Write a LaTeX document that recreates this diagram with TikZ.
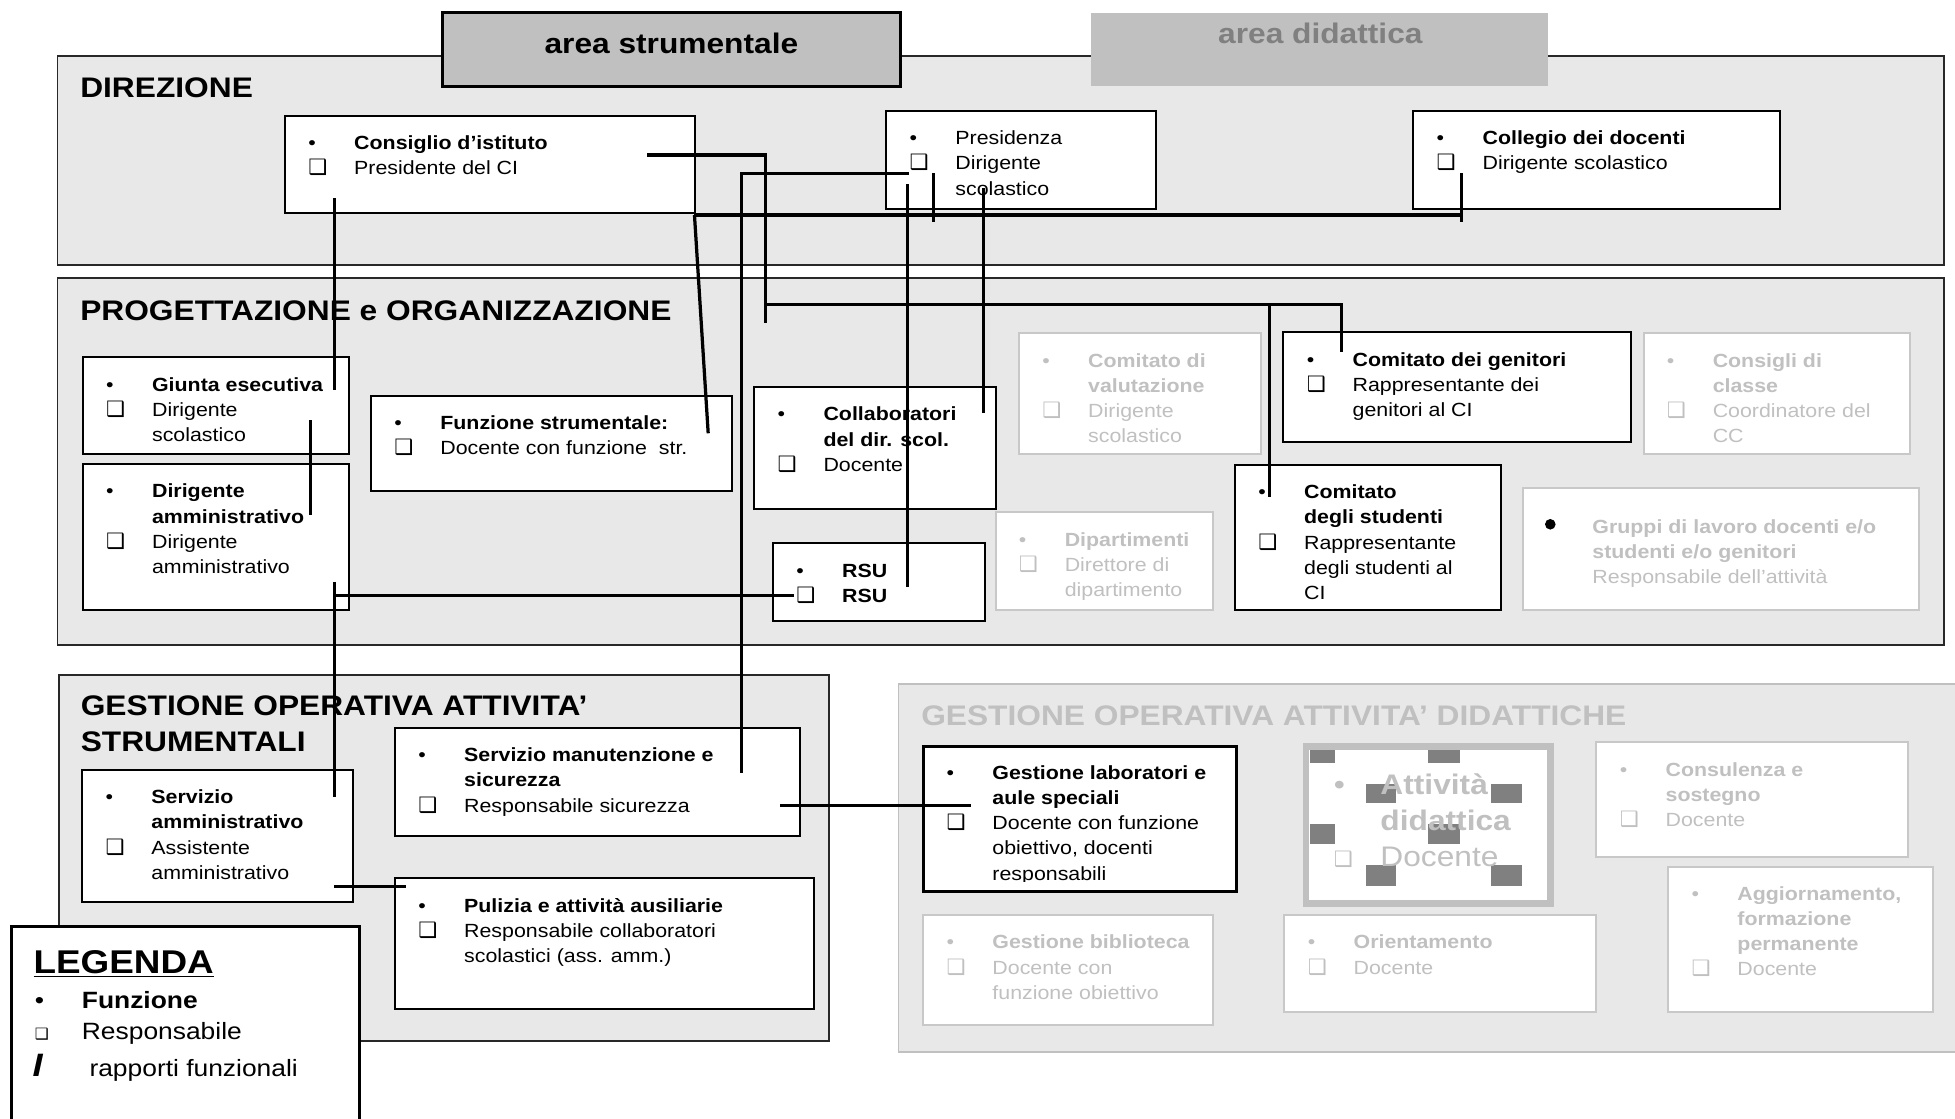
\documentclass[tikz,border=0pt]{standalone}
\usepackage{fontspec}
\setmainfont{Liberation Sans}[FakeStretch=1.12]
\newfontfamily\dejavu{DejaVu Sans}
\usetikzlibrary{fit}

\definecolor{panelfill}{RGB}{232,232,232}
\definecolor{tgray}{RGB}{192,192,192}
\definecolor{bgray}{RGB}{200,200,200}
\definecolor{agray}{RGB}{192,192,192}
\definecolor{dgray}{RGB}{128,128,128}
\definecolor{pborder}{RGB}{40,40,40}

\newcommand\fb{\fontsize{15.3}{20.2}\selectfont}
\newcommand\fh{\fontsize{22.7}{29.4}\selectfont}
\newcommand\chkbox{{\dejavu\fontsize{17}{17}\selectfont ❑}}
\newcommand\bul{\makebox[36.8pt][l]{•}}
\newcommand\chq{\makebox[36.8pt][l]{\chkbox}}
\newcommand\nob{\hspace*{36.8pt}}

% name, x1, y1, x2, y2, box style, text colour, content
\newcommand\orgbox[8]{%
  \node[#6, fit={(#2,#3) (#4,#5)}] (#1) {};
  \node[anchor=base west, inner sep=0pt, text=#7] (#1-t) at ({#2+18.5},{#3+27}) {\parbox[t]{400pt}{\fb #8}};
}

\begin{document}
\begin{tikzpicture}[x=1pt,y=-1pt,
  obox/.style={draw=black, line width=1.6pt, fill=white, inner sep=0pt},
  gbox/.style={draw=bgray, line width=1.6pt, fill=white, inner sep=0pt},
  panel/.style={draw=pborder, line width=1.5pt, fill=panelfill, inner sep=0pt},
  head/.style={inner sep=0pt, font=\fh\bfseries},
  conn/.style={line width=2.6pt}]
\useasboundingbox (0,0) rectangle (1568,897);
\fill[white] (0,0) rectangle (1568,897);

% panels
\node[panel, fit={(46.1,44.9) (1559.3,212.5)}] (pdir) {};
\node[panel, fit={(46.1,222.7) (1559.3,517.3)}] (pprog) {};
\node[panel, fit={(47,541.4) (665.2,835)}] (pstrum) {};
\node[panel, draw=tgray, fit={(720.6,548.9) (1580,844)}] (pdid) {};

% headings
\node[head, anchor=base west] (hdir) at (64.2,78.3) {DIREZIONE};
\node[head, anchor=base west] (hprog) at (64.2,256.7) {PROGETTAZIONE e ORGANIZZAZIONE};
\node[head, anchor=base west] (hstrum) at (64.6,573.5) {\parbox[t]{500pt}{\fh GESTIONE OPERATIVA ATTIVITA’\\STRUMENTALI}};
\node[head, text=tgray, anchor=base west] (hdid) at (738.7,581.5) {GESTIONE OPERATIVA ATTIVITA’ DIDATTICHE};

% area labels
\node[draw=black, line width=2.4pt, fill=agray, inner sep=0pt, fit={(355,10.2) (722,69)}] (astr) {};
\node[head, anchor=base] (astr-t) at (538.5,42.8) {area strumentale};
\node[fill=agray, inner sep=0pt, fit={(875,10.2) (1241.6,69)}] (adid) {};
\node[head, text=dgray, anchor=base] (adid-t) at (1059,34.8) {area didattica};

% DIREZIONE
\orgbox{ci}{228.6}{93}{557.4}{171}{obox}{black}{\bul\textbf{Consiglio d’istituto}\\\chq Presidente del CI}
\orgbox{pres}{710.8}{89}{927.4}{167.9}{obox}{black}{\bul Presidenza\\\chq Dirigente\\\nob scolastico}
\orgbox{cd}{1133.6}{89}{1427.7}{167.9}{obox}{black}{\bul\textbf{Collegio dei docenti}\\\chq Dirigente scolastico}

% PROGETTAZIONE
\orgbox{ge}{66.5}{286.6}{279.8}{364.4}{obox}{black}{\bul\textbf{Giunta esecutiva}\\\chq Dirigente\\\nob scolastico}
\orgbox{da}{66.5}{372.4}{279.8}{489.3}{obox}{black}{\bul\textbf{Dirigente}\\\nob\textbf{amministrativo}\\\chq Dirigente\\\nob amministrativo}
\orgbox{fs}{297.7}{317.6}{587.2}{393.8}{obox}{black}{\bul\textbf{Funzione strumentale:}\\\chq Docente con funzione\ \ str.}
\orgbox{col}{605}{310.6}{799}{408}{obox}{black}{\bul\textbf{Collaboratori}\\\nob\textbf{del dir. scol.}\\\chq Docente}
\orgbox{rsu}{620}{435.8}{790}{497.8}{obox}{black}{\bul\textbf{RSU}\\\chq\textbf{RSU}}
\orgbox{cv}{817.3}{267.4}{1011.4}{364}{gbox}{tgray}{\bul\textbf{Comitato di}\\\nob\textbf{valutazione}\\\chq Dirigente\\\nob scolastico}
\orgbox{cg}{1029.4}{266.6}{1308}{354.8}{obox}{black}{\bul\textbf{Comitato dei genitori}\\\chq Rappresentante dei\\\nob genitori al CI}
\orgbox{cc}{1318.2}{267.4}{1531.7}{364}{gbox}{tgray}{\bul\textbf{Consigli di}\\\nob\textbf{classe}\\\chq Coordinatore del\\\nob CC}
\orgbox{dip}{798.5}{411}{973}{489.3}{gbox}{tgray}{\bul\textbf{Dipartimenti}\\\chq Direttore di\\\nob dipartimento}
\orgbox{cs}{990.5}{373}{1203.5}{489.3}{obox}{black}{\bul\textbf{Comitato}\\\nob\textbf{degli studenti}\\\chq Rappresentante\\\nob degli studenti al\\\nob CI}
\node[gbox, fit={(1221.6,391.7) (1539,489.3)}] (gl) {};
\node[circle, fill=black, inner sep=0pt, minimum size=8.5pt] (gl-b) at (1243.4,420.5) {};
\node[anchor=base west, inner sep=0pt, text=tgray] (gl-t) at (1277,427.8) {\parbox[t]{400pt}{\fontsize{15.3}{20}\selectfont\textbf{Gruppi di lavoro docenti e/o}\\\textbf{studenti e/o genitori}\\Responsabile dell’attività}};

% GESTIONE strumentali
\orgbox{sa}{66}{617.6}{283}{723.7}{obox}{black}{\bul\textbf{Servizio}\\\nob\textbf{amministrativo}\\\chq Assistente\\\nob amministrativo}
\orgbox{sm}{316.8}{584}{641.6}{670.5}{obox}{black}{\bul\textbf{Servizio manutenzione e}\\\nob\textbf{sicurezza}\\\chq Responsabile sicurezza}
\orgbox{pu}{316.8}{704.5}{652.5}{809.3}{obox}{black}{\bul\textbf{Pulizia e attività ausiliarie}\\\chq Responsabile collaboratori\\\nob scolastici (ass. amm.)}

% GESTIONE didattiche
\node[obox, line width=2.4pt, fit={(740.5,598.9) (991.7,715.4)}] (lab) {};
\begin{scope}
\clip (740.5,598.9) rectangle (991.7,707);
\node[anchor=base west, inner sep=0pt] (lab-t) at (759,625) {\parbox[t]{400pt}{\fb\bul\textbf{Gestione laboratori e}\\\nob\textbf{aule speciali}\\\chq Docente con funzione\\\nob obiettivo, docenti\\\nob responsabili}};
\end{scope}

\node[draw=tgray, line width=5.3pt, fill=white, inner sep=0pt, fit={(1047.6,598.8) (1243.4,724.4)}] (ad) {};
\foreach \a/\b/\c/\d in {1051/601.5/1071/611.7, 1145/601.5/1171/611.7, 1095.6/629/1120/644, 1196/629/1220.5/644, 1051/661/1071/677, 1145/661/1171/677, 1095.6/694/1120/710.4, 1196/694/1220.5/710.4}
  \fill[dgray] (\a,\b) rectangle (\c,\d);
\node[anchor=base west, inner sep=0pt, text=tgray] (ad-t) at (1069.6,637.6) {\parbox[t]{300pt}{\fontsize{22.7}{28.5}\selectfont\makebox[37.4pt][l]{•}\textbf{Attività}\\\hspace*{37.4pt}\textbf{didattica}\\\makebox[37.4pt][l]{\chkbox}Docente}};

\orgbox{cons}{1280.4}{595.4}{1530.6}{687.1}{gbox}{tgray}{\bul\textbf{Consulenza e}\\\nob\textbf{sostegno}\\\chq Docente}
\orgbox{agg}{1338}{695}{1550}{811.4}{gbox}{tgray}{\bul\textbf{Aggiornamento,}\\\nob\textbf{formazione}\\\nob\textbf{permanente}\\\chq Docente}
\orgbox{bib}{740.5}{734}{972.5}{822}{gbox}{tgray}{\bul\textbf{Gestione biblioteca}\\\chq Docente con\\\nob funzione obiettivo}
\orgbox{ori}{1030.2}{734}{1280.4}{811.4}{gbox}{tgray}{\bul\textbf{Orientamento}\\\chq Docente}

% connectors
\coordinate (c1a) at (519,124.3);
\coordinate (c1b) at (614,124.3);
\coordinate (c1c) at (614,259);
\coordinate (c1j) at (614,244);
\coordinate (c1d) at (1076,244);
\coordinate (c1e) at (1076,282);
\coordinate (c1f) at (1018,244);
\coordinate (c1g) at (1018,399);
\draw[conn] (c1a) -- (c1b) -- (c1c);
\draw[conn] (c1j) -- (c1d) -- (c1e);
\draw[conn] (c1f) -- (c1g);

\coordinate (c2a) at (729,139);
\coordinate (c2b) at (595,139);
\coordinate (c2c) at (595,620);
\draw[conn] (c2a) -- (c2b) -- (c2c);

\coordinate (c3a) at (728,147.6);
\coordinate (c3b) at (728,470.5);
\draw[conn] (c3a) -- (c3b);

\coordinate (c4a) at (789,151);
\coordinate (c4b) at (789,331);
\draw[conn] (c4a) -- (c4b);

\coordinate (c5a) at (557,172.5);
\coordinate (c5b) at (1172,172.5);
\coordinate (c5c) at (749,139);
\coordinate (c5d) at (749,178);
\coordinate (c5e) at (1172,139);
\coordinate (c5f) at (1172,178);
\coordinate (c5g) at (568,347.5);
\draw[conn] (c5a) -- (c5b);
\draw[conn] (c5c) -- (c5d);
\draw[conn] (c5e) -- (c5f);
\draw[conn] (c5a) -- (c5g);

\coordinate (c6a) at (268,159);
\coordinate (c6b) at (268,312.5);
\draw[conn] (c6a) -- (c6b);

\coordinate (c7a) at (249,337);
\coordinate (c7b) at (249,413);
\draw[conn] (c7a) -- (c7b);

\coordinate (c8a) at (268,466.6);
\coordinate (c8b) at (268,639);
\coordinate (c8c) at (268,477.8);
\coordinate (c8d) at (637,477.8);
\draw[conn] (c8a) -- (c8b);
\draw[conn] (c8c) -- (c8d);

\coordinate (c9a) at (268,711);
\coordinate (c9b) at (325.6,711);
\draw[conn] (c9a) -- (c9b);

\coordinate (c10a) at (625.6,646);
\coordinate (c10b) at (779,646);
\draw[conn] (c10a) -- (c10b);

% legend
\node[draw=black, line width=2.4pt, fill=white, inner sep=0pt, fit={(9.4,743) (288.7,930)}] (leg) {};
\node[anchor=base west, inner sep=0pt] (leg-h) at (26.7,781) {\fontsize{26.4}{27}\selectfont\bfseries\underline{LEGENDA}};
\node[anchor=base west, inner sep=0pt] (leg-f) at (27.8,808.7) {\fontsize{18.9}{20}\selectfont\makebox[37.7pt][l]{•}\textbf{Funzione}};
\node[anchor=base west, inner sep=0pt] (leg-r) at (27.8,833.6) {\fontsize{18.9}{20}\selectfont\makebox[37.7pt][l]{\dejavu\fontsize{12.5}{12.5}\selectfont ❑}Responsabile};
\node[anchor=base west, inner sep=0pt] (leg-l) at (26,863.5) {\fontsize{18.9}{20}\selectfont\makebox[45.6pt][l]{\fontsize{26}{26}\selectfont\bfseries\itshape I}rapporti funzionali};
\end{tikzpicture}
\end{document}
